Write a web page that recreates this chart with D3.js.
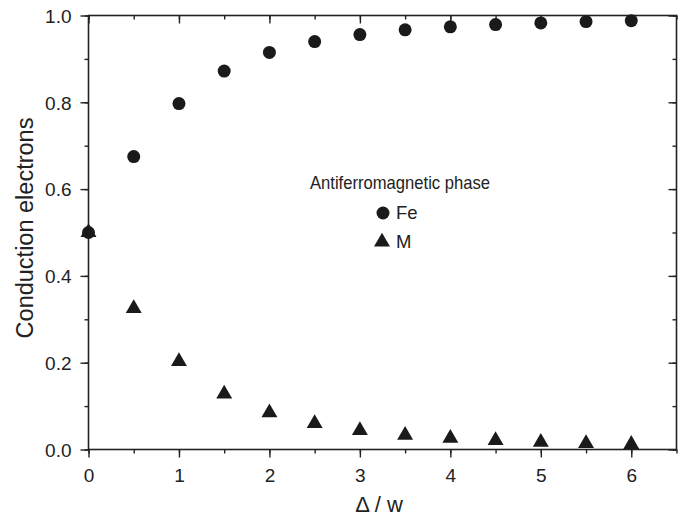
<!DOCTYPE html>
<html><head><meta charset="utf-8">
<script src="https://cdn.jsdelivr.net/npm/d3@7"></script>
<style>body{margin:0;background:#fff}svg{display:block}text{font-family:"Liberation Sans",Arial,sans-serif;fill:#222}</style>
</head><body>
<script>
const deltaW = [0,0.5,1,1.5,2,2.5,3,3.5,4,4.5,5,5.5,6];
const fe = [0.5,0.675,0.797,0.872,0.915,0.940,0.956,0.967,0.974,0.979,0.983,0.986,0.988];
const m  = [0.5,0.325,0.203,0.128,0.085,0.060,0.044,0.033,0.026,0.021,0.017,0.014,0.012];
const xTicks = [0,1,2,3,4,5,6];
const yTicks = [0,0.2,0.4,0.6,0.8,1.0];
const legendTitle = "Antiferromagnetic phase";
const seriesNames = ["Fe","M"];

const W=686,H=518;
const L=88.5,R=676.5,T=15.5,B=449.5;
const svg=d3.select("body").append("svg").attr("width",W).attr("height",H);
const x=d3.scaleLinear().domain([0,6.5]).range([L,R]);
const y=d3.scaleLinear().domain([0,1]).range([B,T]);
const col="#222";
const xMinor=d3.range(0,6.51,0.5), yMinor=d3.range(0,1.001,0.1);

// bottom axis
svg.append("g").attr("transform",`translate(0,${B})`)
  .call(d3.axisBottom(x).tickValues(xMinor).tickSize(4).tickFormat(""));
const gB=svg.append("g").attr("transform",`translate(0,${B})`)
  .call(d3.axisBottom(x).tickValues(xTicks).tickSize(8).tickFormat(d3.format("d")));
// top
svg.append("g").attr("transform",`translate(0,${T})`).call(d3.axisBottom(x).tickValues(xMinor).tickSize(4).tickFormat(""));
svg.append("g").attr("transform",`translate(0,${T})`).call(d3.axisBottom(x).tickValues(xTicks).tickSize(8).tickFormat(""));
// left
svg.append("g").attr("transform",`translate(${L},0)`).call(d3.axisLeft(y).tickValues(yMinor).tickSize(4).tickFormat(""));
const gL=svg.append("g").attr("transform",`translate(${L},0)`).call(d3.axisLeft(y).tickValues(yTicks).tickSize(8).tickFormat(d3.format(".1f")));
// right
svg.append("g").attr("transform",`translate(${R},0)`).call(d3.axisLeft(y).tickValues(yMinor).tickSize(4).tickFormat(""));
svg.append("g").attr("transform",`translate(${R},0)`).call(d3.axisLeft(y).tickValues(yTicks).tickSize(8).tickFormat(""));

svg.selectAll(".tick line").attr("stroke",col).attr("stroke-width",1.4);
svg.selectAll(".tick text").attr("font-size",19).attr("fill",col).style("font-family","'Liberation Sans',Arial,sans-serif");
gB.selectAll(".tick text").attr("y",32.5).attr("dy",0);
gL.selectAll(".tick text").attr("x",-17).attr("dy","0.36em");
svg.selectAll(".domain").remove();
svg.append("rect").attr("x",L).attr("y",T).attr("width",R-L).attr("height",B-T).attr("fill","none").attr("stroke",col).attr("stroke-width",1.6);

// data
svg.append("g").selectAll("circle").data(deltaW).join("circle")
  .attr("cx",d=>x(d)).attr("cy",(d,i)=>y(fe[i])).attr("r",6.5).attr("fill","#1a1a1a");
const tri=d3.symbol().type(d3.symbolTriangle).size(110);
svg.append("g").selectAll("path").data(deltaW).join("path")
  .attr("d",tri).attr("transform",(d,i)=>`translate(${x(d)},${y(m[i])})`).attr("fill","#1a1a1a");

// legend
svg.append("text").attr("x",310).attr("y",189).attr("font-size",18.5)
  .attr("textLength",180).attr("lengthAdjust","spacingAndGlyphs").text(legendTitle);
svg.append("circle").attr("cx",383).attr("cy",213).attr("r",6.5).attr("fill","#1a1a1a");
svg.append("text").attr("x",396).attr("y",219).attr("font-size",18.5).text(seriesNames[0]);
svg.append("path").attr("d",tri).attr("transform","translate(382,242)").attr("fill","#1a1a1a");
svg.append("text").attr("x",396).attr("y",248).attr("font-size",18.5).text(seriesNames[1]);

// axis titles
svg.append("text").attr("transform",`translate(33,228) rotate(-90)`).attr("text-anchor","middle").attr("font-size",23.5).text("Conduction electrons");
svg.append("text").attr("x",379).attr("y",512).attr("text-anchor","middle").attr("font-size",22).text("Δ / w");
</script>
</body></html>
